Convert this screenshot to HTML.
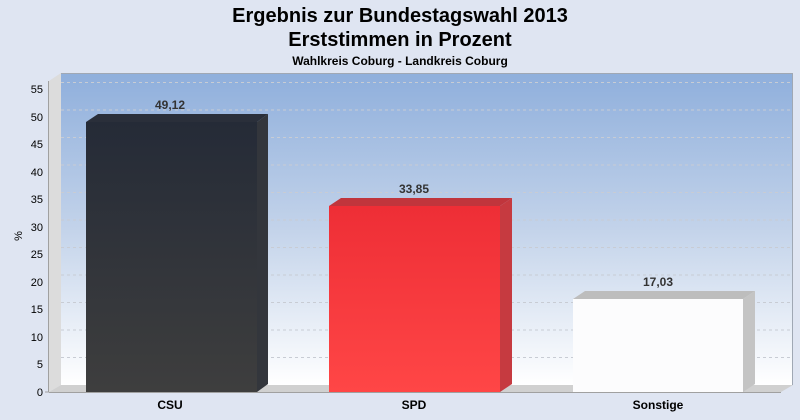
<!DOCTYPE html>
<html><head><meta charset="utf-8"><style>
html,body{margin:0;padding:0;background:#dfe5f2;}
svg{display:block;font-family:"Liberation Sans",sans-serif;}
</style></head><body>
<svg width="800" height="420" viewBox="0 0 800 420" xmlns="http://www.w3.org/2000/svg">
<defs>
<linearGradient id="bg" x1="0" y1="0" x2="0" y2="1">
<stop offset="0" stop-color="#8fafdc"/><stop offset="0.5" stop-color="#c3d3ea"/><stop offset="1" stop-color="#ffffff"/>
</linearGradient>
<linearGradient id="csu" x1="0" y1="0" x2="0" y2="1">
<stop offset="0" stop-color="#252b37"/><stop offset="1" stop-color="#3e3e3e"/>
</linearGradient>
<linearGradient id="spd" x1="0" y1="0" x2="0" y2="1">
<stop offset="0" stop-color="#ee2e36"/><stop offset="1" stop-color="#ff4646"/>
</linearGradient>
</defs>
<rect width="800" height="420" fill="#dfe5f2"/>
<text x="400" y="22" text-anchor="middle" font-size="20" font-weight="bold">Ergebnis zur Bundestagswahl 2013</text>
<text x="400" y="46" text-anchor="middle" font-size="20" font-weight="bold">Erststimmen in Prozent</text>
<text x="400" y="65" text-anchor="middle" font-size="12" font-weight="bold">Wahlkreis Coburg - Landkreis Coburg</text>
<!-- back wall -->
<rect x="61" y="73" width="732" height="312" fill="url(#bg)"/>
<line x1="61" y1="73.5" x2="793" y2="73.5" stroke="#a0a8b4"/>
<line x1="792.5" y1="73" x2="792.5" y2="385" stroke="#a0a8b4"/>
<!-- left wall -->
<polygon points="49,81 61,73 61,385 49,392" fill="#dcdcdc"/>
<!-- floor -->
<polygon points="49,392 61,385 793,385 781,392" fill="#d0d0d0"/>
<g stroke="#c8ccd4" stroke-dasharray="3,3" stroke-width="1">
<line x1="61" y1="357.5" x2="792" y2="357.5"/><line x1="61" y1="330" x2="792" y2="330"/>
<line x1="61" y1="302.5" x2="792" y2="302.5"/><line x1="61" y1="275" x2="792" y2="275"/>
<line x1="61" y1="247.5" x2="792" y2="247.5"/><line x1="61" y1="220" x2="792" y2="220"/>
<line x1="61" y1="192.5" x2="792" y2="192.5"/><line x1="61" y1="165" x2="792" y2="165"/>
<line x1="61" y1="137.5" x2="792" y2="137.5"/><line x1="61" y1="110" x2="792" y2="110"/>
<line x1="61" y1="82.5" x2="792" y2="82.5"/>
</g>
<line x1="49" y1="392.5" x2="781" y2="392.5" stroke="#a0a0a0"/>
<line x1="48.5" y1="81" x2="48.5" y2="392" stroke="#a0a0a0"/>
<g font-size="11" text-anchor="end" fill="#000">
<text x="43" y="396">0</text><text x="43" y="368">5</text><text x="43" y="341">10</text>
<text x="43" y="313">15</text><text x="43" y="286">20</text><text x="43" y="258">25</text>
<text x="43" y="231">30</text><text x="43" y="203">35</text><text x="43" y="176">40</text>
<text x="43" y="148">45</text><text x="43" y="121">50</text><text x="43" y="93">55</text>
</g>
<g stroke="#a0a0a0"><line x1="45" y1="392" x2="49" y2="392"/></g>
<text transform="translate(22,236) rotate(-90)" font-size="11" text-anchor="middle">%</text>
<!-- CSU -->
<polygon points="86,122 98,114 268,114 257,122" fill="#2a2f3a"/>
<polygon points="257,122 268,114 268,384 257,392" fill="#33363c"/>
<rect x="86" y="122" width="171" height="270" fill="url(#csu)"/>
<!-- SPD -->
<polygon points="329,206 341,198 512,198 500,206" fill="#c0353c"/>
<polygon points="500,206 512,198 512,384 500,392" fill="#c63a40"/>
<rect x="329" y="206" width="171" height="186" fill="url(#spd)"/>
<!-- Sonstige -->
<polygon points="573,299 585,291 755,291 743,299" fill="#bdbdbd"/>
<polygon points="743,299 755,291 755,384 743,392" fill="#c4c4c4"/>
<rect x="573" y="299" width="170" height="93" fill="#fcfcfd"/>
<g font-size="12" font-weight="bold" text-anchor="middle" fill="#333">
<text x="170" y="109">49,12</text><text x="414" y="193">33,85</text><text x="658" y="286">17,03</text>
</g>
<g font-size="12" font-weight="bold" text-anchor="middle" fill="#000">
<text x="170" y="409">CSU</text><text x="414" y="409">SPD</text><text x="658" y="409">Sonstige</text>
</g>
</svg>
</body></html>
